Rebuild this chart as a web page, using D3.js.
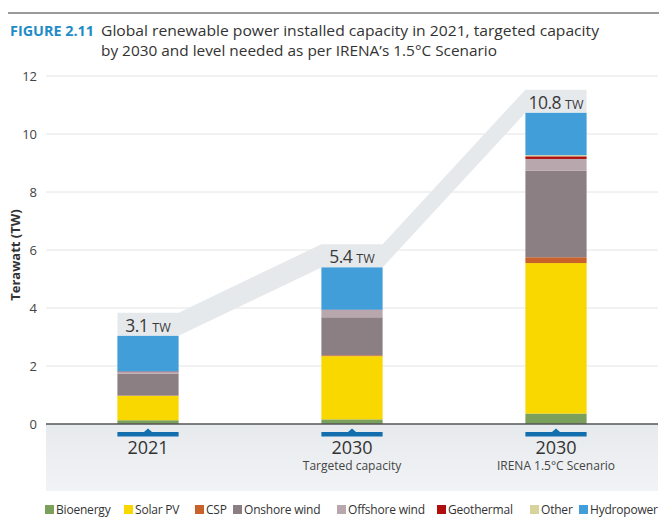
<!DOCTYPE html>
<html>
<head>
<meta charset="utf-8">
<script src="https://cdn.jsdelivr.net/npm/d3@7"></script>
<style>
  html, body { margin: 0; padding: 0; background: #fff; }
  svg { display: block; }
  text { font-family: "Open Sans", "Noto Sans", sans-serif; }
</style>
</head>
<body>
<svg id="chart" width="659" height="518"></svg>
<script>
// ---- Data ----
const categories = ["2021", "2030", "2030"];
const subtitles = ["", "Targeted capacity", "IRENA 1.5°C Scenario"];
const totalLabels = ["3.1", "5.4", "10.8"];
const seriesNames = ["Bioenergy", "Solar PV", "CSP", "Onshore wind", "Offshore wind", "Geothermal", "Other", "Hydropower"];
const bioenergy    = [0.13, 0.16, 0.36];
const solarPV      = [0.84, 2.18, 5.19];
const csp          = [0.01, 0.03, 0.20];
const onshoreWind  = [0.76, 1.31, 2.98];
const offshoreWind = [0.05, 0.25, 0.41];
const geothermal   = [0.02, 0.01, 0.09];
const other        = [0.00, 0.00, 0.04];
const hydropower   = [1.23, 1.46, 1.46];
const yTicks = [0, 2, 4, 6, 8, 10, 12];
const seriesColors = ["#7ba05b", "#f9d800", "#c9612a", "#8c7f83", "#b9a7ae", "#b00d0d", "#d6d49c", "#429ed8"];

(function () {
const seriesValues = [bioenergy, solarPV, csp, onshoreWind, offshoreWind, geothermal, other, hydropower];
const table = categories.map((c, i) => {
  const row = { idx: i };
  seriesNames.forEach((s, k) => row[s] = seriesValues[k][i]);
  return row;
});
const totals = table.map(r => d3.sum(seriesNames, s => r[s]));

// ---- Layout ----
const svg = d3.select("#chart");
const pLeft = 46, pRight = 658, pTop = 76, pBottom = 424;
const x = d3.scaleBand().domain(d3.range(categories.length)).range([pLeft, pRight]).paddingInner(0.7).paddingOuter(0.35);
const y = d3.scaleLinear().domain([0, 12]).range([pBottom, pTop]);
const labelBox = 0.8; // height of total-label box in TW units

// Title rule
svg.append("line").attr("x1", 8).attr("x2", 659).attr("y1", 13).attr("y2", 13)
  .attr("stroke", "#9a9a9a").attr("stroke-width", 2);
svg.append("text").attr("x", 10).attr("y", 36)
  .attr("font-size", 14.5).attr("font-weight", 700).attr("fill", "#1f8cc6")
  .attr("textLength", 84).attr("lengthAdjust", "spacingAndGlyphs")
  .text("FIGURE 2.11");
svg.append("text").attr("x", 101).attr("y", 36).attr("font-size", 14.5).attr("fill", "#333")
  .attr("textLength", 498).attr("lengthAdjust", "spacingAndGlyphs")
  .text("Global renewable power installed capacity in 2021, targeted capacity");
svg.append("text").attr("x", 101).attr("y", 56).attr("font-size", 14.5).attr("fill", "#333")
  .attr("textLength", 396).attr("lengthAdjust", "spacingAndGlyphs")
  .text("by 2030 and level needed as per IRENA’s 1.5°C Scenario");

// Grey band under axis
const defs = svg.append("defs");
const grad = defs.append("linearGradient").attr("id", "bandGrad").attr("x1", 0).attr("y1", 0).attr("x2", 0).attr("y2", 1);
grad.append("stop").attr("offset", "0%").attr("stop-color", "#e7eaed");
grad.append("stop").attr("offset", "100%").attr("stop-color", "#f1f3f5");
svg.append("rect").attr("x", pLeft).attr("y", pBottom).attr("width", pRight - pLeft).attr("height", 67)
  .attr("fill", "url(#bandGrad)");

// Gridlines
svg.append("g").selectAll("line").data(yTicks.filter(t => t > 0)).join("line")
  .attr("x1", pLeft).attr("x2", pRight)
  .attr("y1", d => y(d)).attr("y2", d => y(d))
  .attr("stroke", "#e4e4e4").attr("stroke-width", 1);

// Y axis labels
const yAxis = svg.append("g").attr("transform", `translate(${pLeft},0)`)
  .call(d3.axisLeft(y).tickValues(yTicks).tickSize(0).tickPadding(9).tickFormat(d3.format("d")));
yAxis.select(".domain").remove();
yAxis.selectAll("text").attr("font-size", 13).attr("fill", "#444")
  .attr("font-family", "'Open Sans', sans-serif");

svg.append("text").attr("transform", `translate(20,${(pTop + pBottom) / 2 + 5}) rotate(-90)`)
  .attr("text-anchor", "middle").attr("font-size", 13).attr("font-weight", 700).attr("fill", "#333")
  .text("Terawatt (TW)");

// Ribbon connecting total-label boxes
const ribbonTop = [], ribbonBottom = [];
table.forEach((r, i) => {
  const x0 = x(i), x1 = x(i) + x.bandwidth();
  ribbonTop.push([x0, y(totals[i] + labelBox)], [x1, y(totals[i] + labelBox)]);
  ribbonBottom.push([x0, y(totals[i])], [x1, y(totals[i])]);
});
const ribbonPts = ribbonTop.concat(ribbonBottom.reverse());
svg.append("path").attr("d", d3.line()(ribbonPts) + "Z").attr("fill", "#e6e9ec");

// Stacked bars
const stack = d3.stack().keys(seriesNames)(table);
svg.append("g").selectAll("g").data(stack).join("g")
  .attr("fill", (d, k) => seriesColors[k])
  .selectAll("rect").data(d => d).join("rect")
  .attr("x", d => x(d.data.idx))
  .attr("width", x.bandwidth())
  .attr("y", d => y(d[1]))
  .attr("height", d => Math.max(0, y(d[0]) - y(d[1])));

// Total labels
const tl = svg.append("g").selectAll("text").data(table).join("text")
  .attr("x", d => x(d.idx) + x.bandwidth() / 2)
  .attr("y", d => y(totals[d.idx]) - 4)
  .attr("text-anchor", "middle").attr("fill", "#3a3a3a");
tl.append("tspan").attr("font-size", 17.5).attr("letter-spacing", -0.5).text(d => totalLabels[d.idx]);
tl.append("tspan").attr("font-size", 12.5).attr("dx", 4).text("TW");

// Baseline
svg.append("line").attr("x1", pLeft).attr("x2", pRight).attr("y1", y(0)).attr("y2", y(0))
  .attr("stroke", "#555").attr("stroke-width", 1.4);

// Blue markers & category labels
const cat = svg.append("g").selectAll("g").data(categories).join("g");
cat.append("rect").attr("x", (d, i) => x(i)).attr("y", 432).attr("width", x.bandwidth()).attr("height", 4.5)
  .attr("fill", "#136eae");
cat.append("path").attr("d", (d, i) => {
  const cx = x(i) + x.bandwidth() / 2;
  return `M${cx - 4},432 L${cx},428.5 L${cx + 4},432 Z`;
}).attr("fill", "#136eae");
cat.append("text").attr("x", (d, i) => x(i) + x.bandwidth() / 2).attr("y", 454)
  .attr("text-anchor", "middle").attr("font-size", 18).attr("fill", "#333").text(d => d);
cat.append("text").attr("x", (d, i) => x(i) + x.bandwidth() / 2).attr("y", 470)
  .attr("text-anchor", "middle").attr("font-size", 12).attr("fill", "#444").text((d, i) => subtitles[i]);

// Legend
const legendX = [45, 124, 195, 233, 337, 437, 530, 579];
const lg = svg.append("g").selectAll("g").data(seriesNames).join("g")
  .attr("transform", (d, k) => `translate(${legendX[k]},505)`);
lg.append("rect").attr("width", 9).attr("height", 9).attr("fill", (d, k) => seriesColors[k]);
lg.append("text").attr("x", 11).attr("y", 9.2).attr("font-size", 12).attr("letter-spacing", -0.2)
  .attr("fill", "#333").text(d => d);
})();
</script>
</body>
</html>
